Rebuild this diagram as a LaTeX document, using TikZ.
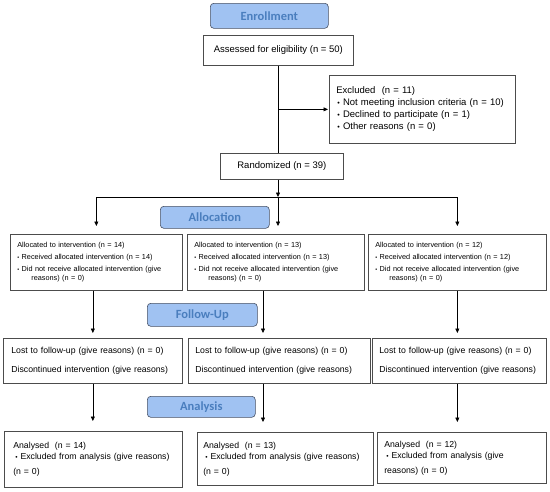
\documentclass[tikz,border=0pt]{standalone}
\usepackage{fontspec}
\setmainfont{Liberation Sans}
\newfontfamily\headfont{Carlito}
\usetikzlibrary{arrows.meta}
\definecolor{headfill}{RGB}{160,194,242}
\definecolor{headtext}{RGB}{74,126,190}
\definecolor{headdraw}{RGB}{70,80,100}
\newcommand{\bul}{{\scalebox{0.75}{\textbullet}}\ }
\begin{document}
\begin{tikzpicture}[x=1pt,y=-1pt,
  box/.style={draw=black!70,line width=0.7pt,anchor=north west,inner xsep=7pt,inner ysep=0pt,align=left},
  headbox/.style={draw=headdraw,fill=headfill,rounded corners=3.5pt,line width=0.6pt,anchor=north west,inner sep=0pt,text=headtext,font=\headfont\bfseries\fontsize{12.5}{14}\selectfont},
  bigtext/.style={font=\fontsize{9.5}{12}\selectfont},
  alloctext/.style={font=\fontsize{7.3}{9}\selectfont},
  smalltext/.style={font=\fontsize{8.7}{11}\selectfont},
  line/.style={line width=0.6pt},
  arr/.style={line,-{Triangle[length=4.5pt,width=4pt]}}]
\useasboundingbox (0,0) rectangle (550,491);
\node[headbox,minimum width=118,minimum height=25] (enrol) at (210,3) {Enrollment};
\node[box,bigtext,minimum width=150,minimum height=30,align=center] (assess) at (203,35) {Assessed for eligibility (n = 50)};
\node[box,bigtext,minimum width=186,minimum height=68,text width=172] (excl) at (329,75) {Excluded\ \ (n = 11)\\\hspace*{1pt}\bul Not meeting inclusion criteria (n = 10)\\\hspace*{1pt}\bul Declined to participate (n = 1)\\\hspace*{1pt}\bul Other reasons (n = 0)};
\node[box,bigtext,minimum width=123,minimum height=26,align=center] (random) at (220,153) {Randomized (n = 39)};
\coordinate (split) at (278,197);
\coordinate (midcol) at (263,0);
\node[headbox,minimum width=109,minimum height=22] (allochead) at (160,206) {Allocation};
\node[box,alloctext,minimum width=172,minimum height=56,text width=158] (alloc1) at (10,234) {Allocated to intervention (n = 14)\\[3pt]\bul Received allocated intervention (n = 14)\\[3pt]\bul Did not receive allocated intervention (give\\\hspace*{14pt}reasons) (n = 0)};
\node[box,alloctext,minimum width=177,minimum height=56,text width=163,inner xsep=7pt] (alloc2) at (187,234) {Allocated to intervention (n = 13)\\[3pt]\bul Received allocated intervention (n = 13)\\[3pt]\bul Did not receive allocated intervention (give\\\hspace*{14pt}reasons) (n = 0)};
\node[box,alloctext,minimum width=178,minimum height=56,text width=164] (alloc3) at (368,234) {Allocated to intervention (n = 12)\\[3pt]\bul Received allocated intervention (n = 12)\\[3pt]\bul Did not receive allocated intervention (give\\\hspace*{14pt}reasons) (n = 0)};
\node[headbox,minimum width=110,minimum height=23] (followhead) at (147,303) {Follow-Up};
\node[box,smalltext,minimum width=179,minimum height=45,text width=163,inner xsep=8pt] (follow1) at (3,338) {Lost to follow-up (give reasons) (n = 0)\\[8pt]Discontinued intervention (give reasons)};
\node[box,smalltext,minimum width=182,minimum height=45,text width=168] (follow2) at (188,338) {Lost to follow-up (give reasons) (n = 0)\\[8pt]Discontinued intervention (give reasons)};
\node[box,smalltext,minimum width=174,minimum height=45,text width=160] (follow3) at (372,338) {Lost to follow-up (give reasons) (n = 0)\\[8pt]Discontinued intervention (give reasons)};
\node[headbox,minimum width=108,minimum height=21] (anhead) at (147,396) {Analysis};
\node[box,smalltext,minimum width=178,minimum height=56,text width=160,inner xsep=9pt] (an1) at (4,431) {Analysed\ \ (n = 14)\\\hspace*{2pt}\bul Excluded from analysis (give reasons)\\[4pt](n = 0)};
\node[box,smalltext,minimum width=176,minimum height=53,text width=164,inner xsep=6pt] (an2) at (197,432) {Analysed\ \ (n = 13)\\\hspace*{2pt}\bul Excluded from analysis (give reasons)\\[4pt](n = 0)};
\node[box,smalltext,minimum width=169,minimum height=51,text width=155] (an3) at (377,432) {Analysed\ \ (n = 12)\\\hspace*{2pt}\bul Excluded from analysis (give\\[4pt]reasons) (n = 0)};
\draw[line] (assess.south) -- (assess.south |- random.north);
\draw[arr,shorten >=1pt] (assess.south |- excl.west) -- (excl.west);
\draw[arr] (random.south -| split) -- (split);
\draw[arr,shorten >=8pt] (split) -| (alloc1.north);
\draw[arr,shorten >=8pt] (split) -| (alloc3.north);
\draw[arr,shorten >=8pt] (split) -- (split |- alloc2.north);
\draw[arr,shorten >=5pt] (alloc1.south -| follow1.north) -- (follow1.north);
\draw[arr,shorten >=5pt] (alloc2.south -| midcol) -- (follow2.north -| midcol);
\draw[arr,shorten >=5pt] (alloc3.south) -- (alloc3.south |- follow3.north);
\draw[arr,shorten >=10pt] (follow1.south) -- (follow1.south |- an1.north);
\draw[arr,shorten >=10pt] (follow2.south -| midcol) -- (an2.north -| midcol);
\draw[arr,shorten >=10pt] (follow3.south -| alloc3.south) -- (an3.north -| alloc3.south);
\end{tikzpicture}
\end{document}
